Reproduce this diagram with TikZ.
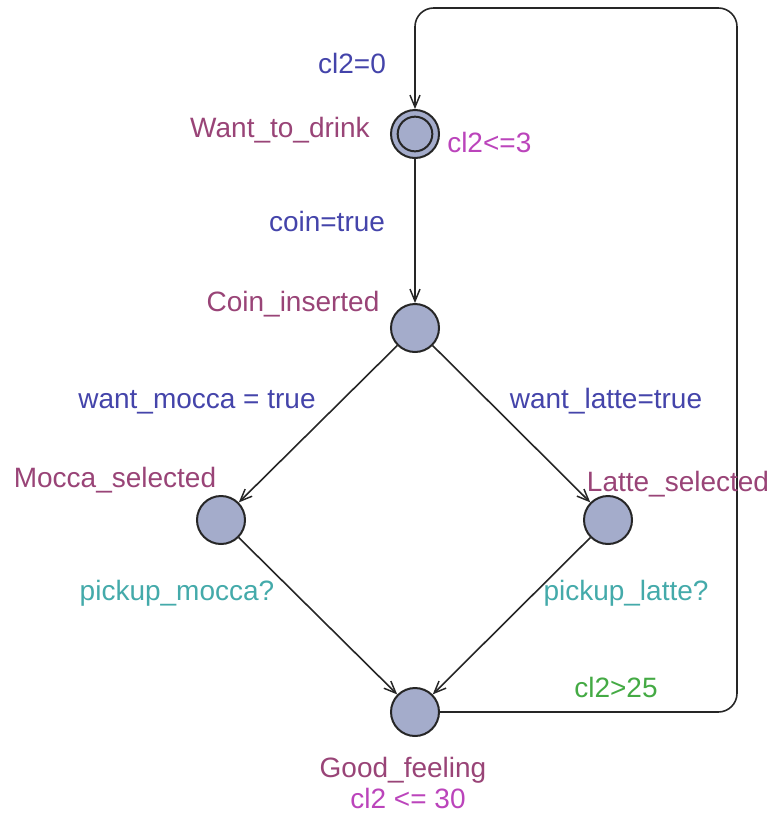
\documentclass[tikz,border=0pt]{standalone}
\usepackage{fontspec}
\setmainfont{Liberation Sans}
\usetikzlibrary{arrows.meta}
\definecolor{locname}{HTML}{994477}
\definecolor{invcol}{HTML}{BB44BB}
\definecolor{assigncol}{HTML}{4444AA}
\definecolor{synccol}{HTML}{44AAAA}
\definecolor{guardcol}{HTML}{44AA44}
\definecolor{locfill}{HTML}{A4ACCB}
\begin{document}
\begin{tikzpicture}[x=0.75pt,y=-0.75pt,
  loc/.style={circle,draw=black!85,line width=1.5pt,fill=locfill,minimum size=36pt,inner sep=0pt},
  lbl/.style={inner sep=0pt,font=\fontsize{21}{25}\selectfont},
  edge/.style={draw=black!85,line width=1.2pt,-{Straight Barb[length=9pt,width=7.5pt,line width=1.1pt]}},
  lname/.style={lbl,text=locname},
  linv/.style={lbl,text=invcol},
  lassign/.style={lbl,text=assigncol},
  lsync/.style={lbl,text=synccol},
  lguard/.style={lbl,text=guardcol}]
\useasboundingbox (0,0) rectangle (772,814);
\node[loc] (want) at (415,134) {};
\node[circle,draw=black!85,line width=1.5pt,minimum size=26pt,inner sep=0pt] (wantin) at (415,134) {};
\node[loc] (coin) at (415,328) {};
\node[loc] (mocca) at (221,520) {};
\node[loc] (latte) at (608,520) {};
\node[loc] (good) at (415,712) {};
\coordinate (c1) at (737,712);
\coordinate (c2) at (737,8);
\coordinate (c3) at (415,8);
% edges
\draw[edge] (want) -- (coin);
\draw[edge] (coin) -- (mocca);
\draw[edge] (coin) -- (latte);
\draw[edge] (mocca) -- (good);
\draw[edge] (latte) -- (good);
\draw[edge,rounded corners=14pt] (good) -- (c1) -- (c2) -- (c3) -- (want);
% labels
\node[lassign,anchor=base] (l1) at (352,73) {cl2=0};
\node[lname,anchor=base east] (n1) at (370,137) {Want\_to\_drink};
\node[linv,anchor=base west] (i1) at (447,152) {cl2<=3};
\node[lassign,anchor=base] (l2) at (327,231) {coin=true};
\node[lname,anchor=base] (n2) at (293,311) {Coin\_inserted};
\node[lassign,anchor=base] (l3) at (197,408) {want\_mocca = true};
\node[lassign,anchor=base] (l4) at (606,408) {want\_latte=true};
\node[lname,anchor=base] (n3) at (115,487) {Mocca\_selected};
\node[lname,anchor=base] (n4) at (678,491) {Latte\_selected};
\node[lsync,anchor=base] (s1) at (177,600) {pickup\_mocca?};
\node[lsync,anchor=base] (s2) at (626,600) {pickup\_latte?};
\node[lguard,anchor=base] (g1) at (616,697) {cl2>25};
\node[lname,anchor=base] (n5) at (403,777) {Good\_feeling};
\node[linv,anchor=base] (i2) at (408,808) {cl2 <= 30};
\end{tikzpicture}
\end{document}
